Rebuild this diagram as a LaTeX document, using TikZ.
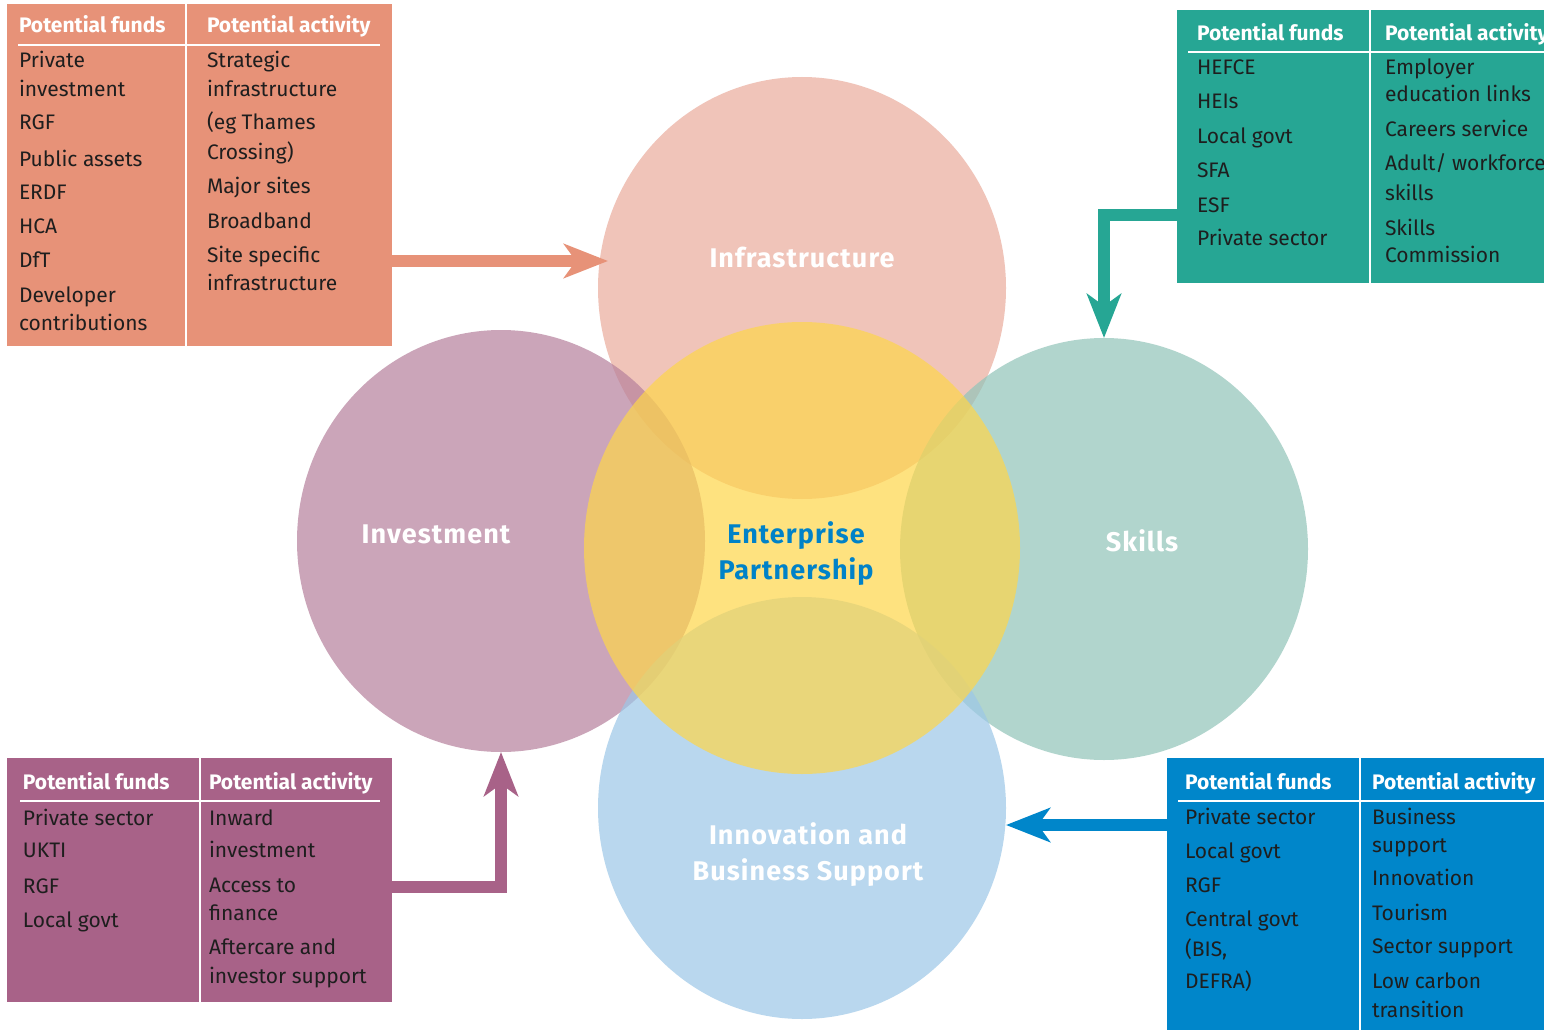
\documentclass[tikz,border=0pt]{standalone}
\usepackage{fontspec}
\setmainfont{Fira Sans}
\newfontfamily\labelfont[LetterSpace=4]{Fira Sans}
\usetikzlibrary{shapes.geometric,arrows.meta,calc}

\definecolor{orangeBox}{RGB}{231,146,120}
\definecolor{tealBox}{RGB}{38,166,148}
\definecolor{purpleBox}{RGB}{168,98,136}
\definecolor{blueBox}{RGB}{0,134,202}
\definecolor{infraFill}{RGB}{234,171,156}
\definecolor{investFill}{RGB}{182,128,156}
\definecolor{skillsFill}{RGB}{145,196,185}
\definecolor{innovFill}{RGB}{156,199,231}
\definecolor{coreFill}{RGB}{254,214,74}
\definecolor{coreText}{RGB}{0,130,200}
\definecolor{bodyText}{RGB}{30,30,30}

\begin{document}
\begin{tikzpicture}[x=1pt,y=-1pt,
  boxrect/.style={rectangle, inner sep=0pt, outer sep=0pt, anchor=north west, draw=none},
  bigcirc/.style={ellipse, inner sep=0pt, outer sep=0pt, minimum width=408pt, minimum height=422pt, fill opacity=0.7},
  bodytext/.style={anchor=base west, inner sep=0pt, outer sep=0pt, text=bodyText, font=\fontsize{21}{25}\selectfont},
  headtext/.style={anchor=base west, inner sep=0pt, outer sep=0pt, text=white, font=\bfseries\fontsize{21}{25}\selectfont},
  headrule/.style={white, line width=2pt},
  divider/.style={white, line width=2pt},
  circlabel/.style={anchor=base, inner sep=0pt, text=white, font=\labelfont\bfseries\fontsize{27}{32}\selectfont},
  corelabel/.style={anchor=base, inner sep=0pt, text=coreText, font=\labelfont\bfseries\fontsize{27}{32}\selectfont},
  flowarrow/.style={line width=12pt, line join=miter, -{Stealth[length=44pt, width=34pt, inset=12pt]}},
]
\useasboundingbox (0,0) rectangle (1544,1030);
\fill[white] (0,0) rectangle (1544,1030);

% circles
\node[bigcirc, fill=infraFill] (infra) at (802,288) {};
\node[bigcirc, fill=investFill] (invest) at (501,541) {};
\node[bigcirc, fill=skillsFill] (skills) at (1104,549) {};
\node[bigcirc, fill=innovFill] (innov) at (802,808) {};
\node[ellipse, inner sep=0pt, outer sep=0pt, minimum width=436pt, minimum height=452pt, fill=coreFill, fill opacity=0.7] (core) at (802,548) {};

% circle labels
\node[circlabel] (infraLab) at (802,267) {Infrastructure};
\node[circlabel] (investLab) at (436,543) {Investment};
\node[circlabel] (skillsLab) at (1142,551) {Skills};
\node[circlabel] (innovLabA) at (808,844) {Innovation and};
\node[circlabel] (innovLabB) at (808,880) {Business Support};
\node[corelabel] (coreLabA) at (796,543) {Enterprise};
\node[corelabel] (coreLabB) at (796,579) {Partnership};

% boxes
\node[boxrect, fill=orangeBox, minimum width=385pt, minimum height=342pt] (tlbox) at (7,4) {};
\node[boxrect, fill=tealBox, minimum width=367pt, minimum height=273pt] (trbox) at (1177,10) {};
\node[boxrect, fill=purpleBox, minimum width=385pt, minimum height=244pt] (blbox) at (7,758) {};
\node[boxrect, fill=blueBox, minimum width=377pt, minimum height=272pt] (brbox) at (1167,758) {};

% dividers and header rules
\draw[divider] (186,4) -- (186,346);
\draw[headrule] (18,45) -- (380,45);
\draw[divider] (1370,10) -- (1370,283);
\draw[headrule] (1188,52) -- (1544,52);
\draw[divider] (200,758) -- (200,1002);
\draw[headrule] (20,801) -- (380,801);
\draw[divider] (1360,758) -- (1360,1030);
\draw[headrule] (1178,801) -- (1544,801);

% headers
\node[headtext] (tlh1) at (19,33) {Potential funds};
\node[headtext] (tlh2) at (207,33) {Potential activity};
\node[headtext] (trh1) at (1197,41) {Potential funds};
\node[headtext] (trh2) at (1385,41) {Potential activity};
\node[headtext] (blh1) at (23,789) {Potential funds};
\node[headtext] (blh2) at (209,789) {Potential activity};
\node[headtext] (brh1) at (1185,789) {Potential funds};
\node[headtext] (brh2) at (1372,789) {Potential activity};

% top-left body
\foreach \yy/\txt [count=\i] in {68/Private, 97/investment, 130/RGF, 166/Public assets, 199/ERDF, 233/HCA, 267/DfT, 302/Developer, 330/contributions}
  \node[bodytext] (tlf\i) at (19,\yy) {\txt};
\foreach \yy/\txt [count=\i] in {68/Strategic, 97/infrastructure, 130/(eg Thames, 159/Crossing), 193/Major sites, 228/Broadband, 262/Site specific, 290/infrastructure}
  \node[bodytext] (tla\i) at (207,\yy) {\txt};

% top-right body
\foreach \yy/\txt [count=\i] in {75/HEFCE, 109/HEIs, 143/Local govt, 177/SFA, 212/ESF, 245/Private sector}
  \node[bodytext] (trf\i) at (1197,\yy) {\txt};
\foreach \yy/\txt [count=\i] in {75/Employer, 102/education links, 137/Careers service, 170/{Adult/ workforce}, 200/skills, 235/Skills, 262/Commission}
  \node[bodytext] (tra\i) at (1385,\yy) {\txt};

% bottom-left body
\foreach \yy/\txt [count=\i] in {825/Private sector, 857/UKTI, 893/RGF, 927/Local govt}
  \node[bodytext] (blf\i) at (23,\yy) {\txt};
\foreach \yy/\txt [count=\i] in {825/Inward, 857/investment, 892/Access to, 920/finance, 954/Aftercare and, 983/investor support}
  \node[bodytext] (bla\i) at (209,\yy) {\txt};

% bottom-right body
\foreach \yy/\txt [count=\i] in {824/Private sector, 858/Local govt, 892/RGF, 926/Central govt, 956/{(BIS,}, 988/DEFRA)}
  \node[bodytext] (brf\i) at (1185,\yy) {\txt};
\foreach \yy/\txt [count=\i] in {824/Business, 852/support, 885/Innovation, 920/Tourism, 953/Sector support, 988/Low carbon, 1017/transition}
  \node[bodytext] (bra\i) at (1372,\yy) {\txt};

% arrows
\coordinate (infraIn) at (608,261);
\draw[flowarrow, orangeBox] (tlbox.east |- infraIn) -- (infraIn);
\draw[flowarrow, tealBox] (trbox.west |- 0,215) -| (skills.north);
\draw[flowarrow, purpleBox] (blbox.east |- 0,887) -| (invest.south);
\draw[flowarrow, blueBox] (brbox.west |- 0,825) -- (innov.east |- 0,825);
\end{tikzpicture}
\end{document}
